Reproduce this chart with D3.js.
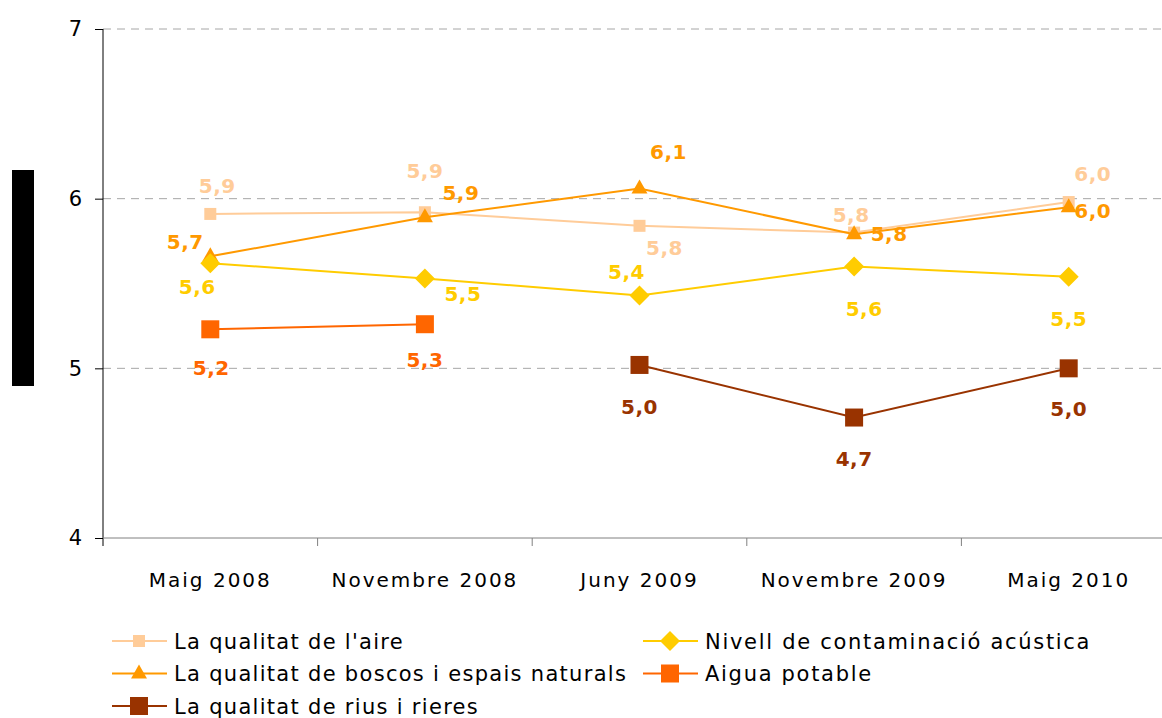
<!DOCTYPE html>
<html lang="ca">
<head>
    <meta charset="UTF-8">
    <title>Valoració medi ambient</title>
    <style>
        body { margin: 0; background: #fff; }
        text { font-family: "Century Gothic", "DejaVu Sans", sans-serif; }
    </style>
    <script src="https://cdn.jsdelivr.net/npm/d3@7"></script>
</head>
<body>
    <svg id="chart" width="1162" height="718"></svg>
    <script>
        // categories and tick values
        const periods = ["Maig 2008", "Novembre 2008", "Juny 2009", "Novembre 2009", "Maig 2010"];
        const yTicks = [4, 5, 6, 7];

        // series values (null = no survey)
        const aire = [5.91, 5.92, 5.84, 5.80, 5.98];
        const boscos = [5.66, 5.89, 6.06, 5.79, 5.95];
        const acustica = [5.62, 5.53, 5.43, 5.60, 5.54];
        const aigua = [5.23, 5.26, null, null, null];
        const rius = [null, null, 5.02, 4.71, 5.00];

        // printed labels
        const aireLabels = ["5,9", "5,9", "5,8", "5,8", "6,0"];
        const boscosLabels = ["5,7", "5,9", "6,1", "5,8", "6,0"];
        const acusticaLabels = ["5,6", "5,5", "5,4", "5,6", "5,5"];
        const aiguaLabels = ["5,2", "5,3", null, null, null];
        const riusLabels = [null, null, "5,0", "4,7", "5,0"];

        const series = [
            { name: "La qualitat de l'aire", values: aire, labels: aireLabels, color: "#FFCC99", marker: "smallsquare",
              off: [[7, -28], [0, -41], [25, 22], [-3, -18], [24, -28]] },
            { name: "La qualitat de boscos i espais naturals", values: boscos, labels: boscosLabels, color: "#FF9900", marker: "triangle",
              off: [[-25, -14], [36, -24], [29, -36], [35, 0], [24, 4]] },
            { name: "Nivell de contaminació acústica", values: acustica, labels: acusticaLabels, color: "#FFCC00", marker: "diamond",
              off: [[-13, 24], [38, 16], [-13, -23], [10, 42], [0, 42]] },
            { name: "Aigua potable", values: aigua, labels: aiguaLabels, color: "#FF6600", marker: "square",
              off: [[1, 39], [0, 36]] },
            { name: "La qualitat de rius i rieres", values: rius, labels: riusLabels, color: "#993300", marker: "square",
              off: [null, null, [0, 42], [0, 41], [0, 41]] }
        ];

        const svg = d3.select("#chart");
        const plotLeft = 103, plotRight = 1176, plotTop = 29, plotBottom = 538;

        const x = d3.scaleBand().domain(periods).range([plotLeft, plotRight]);
        const y = d3.scaleLinear().domain([4, 7]).range([plotBottom, plotTop]);

        // black block on the left
        svg.append("rect").attr("x", 12).attr("y", 170).attr("width", 22).attr("height", 216).attr("fill", "#000");

        // dashed grid
        svg.append("g").selectAll("line")
            .data(yTicks.filter(d => d > 4))
            .join("line")
            .attr("x1", plotLeft).attr("x2", 1162)
            .attr("y1", d => y(d)).attr("y2", d => y(d))
            .attr("stroke", "#A6A6A6").attr("stroke-dasharray", "8,6");

        // y axis
        const yAxis = svg.append("g")
            .attr("transform", `translate(${plotLeft},0)`)
            .call(d3.axisLeft(y).tickValues(yTicks).tickSize(8).tickPadding(13).tickFormat(d3.format("d")));
        yAxis.select(".domain").attr("stroke", "#000").attr("d", `M0,${plotTop}V${plotBottom + 8}`);
        yAxis.selectAll(".tick line").attr("stroke", "#000");
        yAxis.selectAll("text").attr("font-size", 21).attr("fill", "#000")
            .style("font-family", "'Century Gothic', 'DejaVu Sans', sans-serif");

        // x axis
        svg.append("line").attr("x1", plotLeft).attr("x2", 1162).attr("y1", plotBottom).attr("y2", plotBottom).attr("stroke", "#808080");
        svg.append("g").selectAll("line")
            .data(periods.slice(1))
            .join("line")
            .attr("x1", d => x(d)).attr("x2", d => x(d))
            .attr("y1", plotBottom).attr("y2", plotBottom + 8)
            .attr("stroke", "#808080");
        svg.append("g").selectAll("text")
            .data(periods)
            .join("text")
            .attr("x", d => x(d) + x.bandwidth() / 2)
            .attr("y", 587)
            .attr("text-anchor", "middle")
            .attr("font-size", 20)
            .attr("letter-spacing", 2)
            .text(d => d);

        function drawMarker(g, type, color, cx, cy) {
            if (type === "smallsquare") {
                g.append("rect").attr("x", cx - 6).attr("y", cy - 6).attr("width", 12).attr("height", 12).attr("fill", color);
            } else if (type === "square") {
                g.append("rect").attr("x", cx - 9).attr("y", cy - 9).attr("width", 18).attr("height", 18).attr("fill", color);
            } else if (type === "triangle") {
                g.append("path").attr("d", `M${cx},${cy - 9}L${cx + 8},${cy + 5}L${cx - 8},${cy + 5}Z`).attr("fill", color);
            } else if (type === "diamond") {
                g.append("path").attr("d", `M${cx},${cy - 10}L${cx + 10},${cy}L${cx},${cy + 10}L${cx - 10},${cy}Z`).attr("fill", color);
            }
        }

        const cxOf = i => x(periods[i]) + x.bandwidth() / 2;

        const line = d3.line()
            .defined(d => d != null)
            .x((d, i) => cxOf(i))
            .y(d => y(d));

        series.forEach(s => {
            const g = svg.append("g");
            g.append("path")
                .attr("d", line(s.values))
                .attr("fill", "none")
                .attr("stroke", s.color)
                .attr("stroke-width", 2);
            s.values.forEach((v, i) => {
                if (v == null) return;
                drawMarker(g, s.marker, s.color, cxOf(i), y(v));
            });
        });

        // data labels on top
        series.forEach(s => {
            s.values.forEach((v, i) => {
                if (v == null || !s.off[i]) return;
                svg.append("text")
                    .attr("x", cxOf(i) + s.off[i][0])
                    .attr("y", y(v) + s.off[i][1] + 7)
                    .attr("text-anchor", "middle")
                    .attr("font-size", 20)
                    .attr("font-weight", s.color === "#FFCC99" ? 600 : "bold")
                    .attr("letter-spacing", 0.5)
                    .attr("fill", s.color)
                    .text(s.labels[i]);
            });
        });

        // legend
        const legendOrder = [0, 2, 1, 3, 4];
        const legend = svg.append("g");
        legendOrder.forEach((si, k) => {
            const s = series[si];
            const col = k % 2, row = Math.floor(k / 2);
            const lx = col === 0 ? 112 : 643;
            const ly = 641 + row * 32.5;
            const g = legend.append("g");
            g.append("line").attr("x1", lx).attr("x2", lx + 55).attr("y1", ly).attr("y2", ly)
                .attr("stroke", s.color).attr("stroke-width", 2);
            drawMarker(g, s.marker, s.color, lx + 27, ly);
            g.append("text")
                .attr("x", lx + 62).attr("y", ly + 7.5)
                .attr("font-size", 21)
                .attr("letter-spacing", col === 0 ? 1.3 : 1.7)
                .attr("fill", "#000")
                .text(s.name);
        });
    </script>
</body>
</html>
